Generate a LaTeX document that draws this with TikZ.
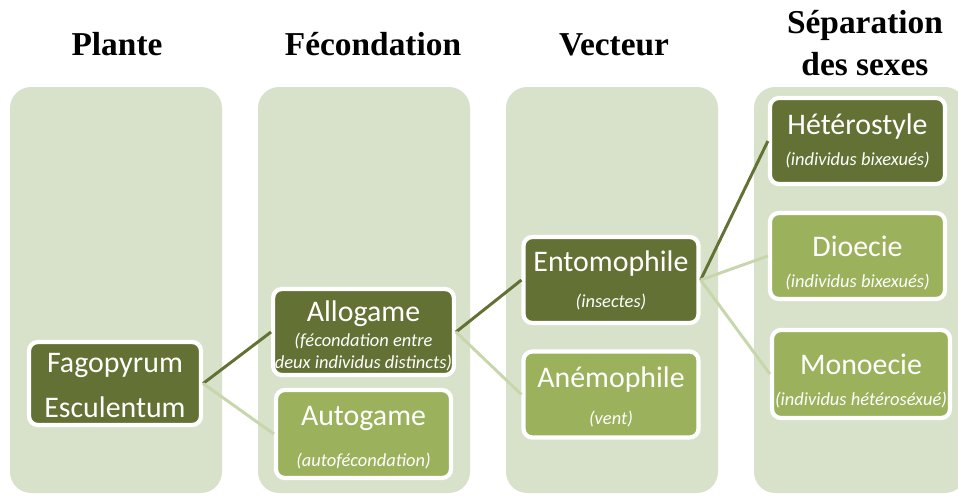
\documentclass[tikz,border=0pt]{standalone}
\usepackage{fontspec}
\setmainfont{Carlito}
\newfontfamily\titlefont{Liberation Serif}
\usepackage{xcolor}
\usepackage{tikz}
\usetikzlibrary{shadows}

\definecolor{colbg}{RGB}{216,226,203}
\definecolor{darkolive}{RGB}{99,113,52}
\definecolor{lightolive}{RGB}{155,177,92}
\definecolor{paleline}{RGB}{200,214,172}

\newcommand{\subtxt}[1]{{\itshape\fontsize{10.5}{12.5}\selectfont #1}}
\newcommand{\toplift}[1]{\rule{0pt}{#1}}

\begin{document}
\begin{tikzpicture}[x=0.02cm,y=-0.02cm,
    heading/.style={font=\titlefont\bfseries\fontsize{19}{24}\selectfont, align=center},
    box/.style={rounded corners=5pt, draw=white, line width=2.4pt, text=white,
      align=center, minimum width=3.5cm, minimum height=1.72cm, inner sep=1pt,
      font=\fontsize{17}{20}\selectfont,
      drop shadow={opacity=0.35, shadow xshift=0.6pt, shadow yshift=-0.8pt}},
    dark/.style={box, fill=darkolive},
    light/.style={box, fill=lightolive},
    darkline/.style={draw=darkolive, line width=1.7pt},
    lightline/.style={draw=paleline, line width=1.7pt}]
  \useasboundingbox (0,0) rectangle (958,495);
  \clip (0,0) rectangle (958,495);
  \foreach \x in {10,258,506,754}
    \fill[colbg, rounded corners=12pt] (\x,87) rectangle ++(212,406);
  \node[heading, anchor=base] (tplante) at (117,55) {Plante};
  \node[heading, anchor=base] (tfec) at (373,55) {Fécondation};
  \node[heading, anchor=base] (tvec) at (614,55) {Vecteur};
  \node[heading] (tsep) at (865,43) {Séparation\\des sexes};
  \node[dark, minimum width=3.44cm, minimum height=1.66cm] (fago) at (115,383.5)
    {\toplift{13pt}Fagopyrum\\[5.5pt]Esculentum};
  \node[dark] (allo) at (363.5,332)
    {\toplift{16.5pt}Allogame\\[-6pt]\subtxt{(fécondation entre}\\[-7.5pt]\subtxt{deux individus distincts)}};
  \node[light, minimum height=1.76cm] (auto) at (363.5,434)
    {\toplift{15pt}Autogame\\[3pt]\subtxt{(autofécondation)}};
  \node[dark] (ento) at (611,280) {Entomophile\\[0.5pt]\subtxt{(insectes)}};
  \node[light] (anemo) at (611,394.5) {\toplift{14.5pt}Anémophile\\[1pt]\subtxt{(vent)}};
  \node[dark] (hetero) at (857.5,141) {Hétérostyle\\[-2pt]\subtxt{(individus bixexués)}};
  \node[light] (dio) at (857.5,256) {\toplift{19.5pt}Dioecie\\[-2.5pt]\subtxt{(individus bixexués)}};
  \node[light, minimum width=3.56cm, minimum height=1.76cm] (mono) at (861,374)
    {\toplift{20pt}Monoecie\\[-2.5pt]\subtxt{(individus hétéroséxué)}};
  \draw[darkline] (fago.east) -- (allo.west);
  \draw[lightline] (fago.east) -- (auto.west);
  \draw[darkline] (allo.east) -- (ento.west);
  \draw[lightline] (allo.east) -- (anemo.west);
  \draw[darkline] (ento.east) -- (hetero.west);
  \draw[lightline] (ento.east) -- (dio.west);
  \draw[lightline] (ento.east) -- (mono.west);
\end{tikzpicture}
\end{document}
